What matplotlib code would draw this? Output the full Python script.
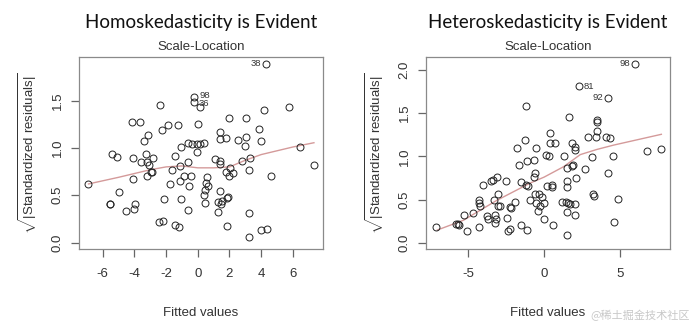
#!/usr/bin/env python
# coding: utf-8

"""
Scale-Location plots: homoskedastic vs heteroskedastic residuals
"""

import numpy as np
import matplotlib
matplotlib.use("Agg")
import matplotlib.pyplot as plt

# ---- left panel: homoskedasticity ----
homo_x = [-6.9, -5.56, -5.52, -5.39, -5.07, -4.95, -4.55, -4.13, -4.11, -4.11,
          -4.04, -3.94, -3.64, -3.58, -3.37, -3.26, -3.14, -3.2, -3.2, -3.05,
          -2.84, -2.86, -2.95, -2.38, -2.25, -2.46, -2.21, -2.13, -1.85, -1.75,
          -1.6, -1.47, -1.45, -1.18, -1.26, -1.12, -1.07, -1.09, -1.12, -0.84,
          -0.65, -0.61, -0.55, -0.65, -0.42, -0.34, -0.23, -0.27, 0.13, 0.0,
          -0.06, -0.02, 0.13, 0.38, 0.42, 0.46, 0.55, 0.48, 0.51, 0.65,
          1.09, 1.26, 1.26, 1.37, 1.39, 1.39, 1.41, 1.43, 1.47, 1.52,
          1.75, 1.83, 1.89, 1.96, 1.87, 1.77, 1.96, 2.02, 2.19, 2.53,
          2.76, 2.95, 3.05, 3.05, 3.22, 3.26, 3.28, 3.26, 3.87, 4.0,
          4.0, 4.17, 4.32, 4.36, 4.61, 5.75, 6.46, 7.33]
homo_y = [0.62, 0.41, 0.41, 0.94, 0.90, 0.54, 0.33, 1.27, 0.89, 0.67,
          0.36, 0.41, 1.27, 0.85, 1.07, 0.94, 1.14, 0.85, 0.70, 0.82,
          0.89, 0.75, 0.75, 1.45, 1.19, 0.22, 0.23, 0.46, 1.24, 0.62,
          0.77, 0.92, 0.19, 0.17, 1.24, 0.81, 1.01, 0.46, 0.65, 0.70,
          0.34, 0.85, 0.60, 1.05, 0.70, 1.04, 1.54, 1.48, 1.43, 1.25,
          1.04, 0.96, 1.04, 1.05, 0.50, 0.56, 0.69, 0.42, 0.63, 0.60,
          0.88, 0.32, 0.43, 1.17, 1.09, 0.55, 0.86, 0.83, 0.41, 0.44,
          1.10, 0.47, 0.48, 1.32, 0.18, 0.75, 0.70, 0.79, 0.74, 1.08,
          0.86, 1.02, 1.32, 1.12, 0.06, 0.31, 0.89, 0.77, 1.20, 1.07,
          0.13, 1.40, 1.89, 0.14, 0.70, 1.43, 1.01, 0.82]
homo_labels = {"38": (4.32, 1.89), "98": (-0.23, 1.555), "36": (-0.27, 1.47)}
homo_fit_x = [-6.9, -5, -4, -3, -2, -1, 0, 1, 2, 3, 4, 5, 6, 7.33]
homo_fit_y = [0.62, 0.69, 0.73, 0.77, 0.80, 0.81, 0.79, 0.79, 0.80, 0.87,
              0.93, 0.97, 1.01, 1.055]

# ---- right panel: heteroskedasticity ----
hetero_x = [-7.16, -5.81, -5.7, -5.64, -5.29, -5.11, -4.71, -4.30, -4.27, -4.27,
            -4.23, -4.07, -3.79, -3.74, -3.48, -3.39, -3.30, -3.28, -3.26, -3.19,
            -3.13, -3.08, -3.02, -2.95, -2.51, -2.47, -2.42, -2.25, -2.29, -2.18,
            -1.92, -1.81, -1.65, -1.52, -1.52, -1.30, -1.21, -1.15, -1.15, -1.23,
            -1.08, -0.93, -0.68, -0.66, -0.64, -0.53, -0.59, -0.51, -0.40, -0.33,
            -0.26, -0.13, -0.04, 0.0, 0.11, 0.18, 0.29, 0.40, 0.40, 0.51,
            0.51, 0.55, 0.73, 1.19, 1.32, 1.41, 1.48, 1.50, 1.50, 1.50,
            1.50, 1.54, 1.61, 1.72, 1.83, 1.85, 1.89, 2.0, 2.0, 2.05,
            2.05, 2.11, 2.31, 2.71, 2.91, 3.13, 3.24, 3.26, 3.44, 3.48,
            3.48, 3.48, 4.07, 4.19, 4.21, 4.36, 4.52, 4.58, 4.85, 6.01,
            6.78, 7.73]
hetero_y = [0.185, 0.22, 0.22, 0.20, 0.32, 0.14, 0.34, 0.185, 0.50, 0.46,
            0.43, 0.67, 0.31, 0.28, 0.71, 0.73, 0.49, 0.32, 0.23, 0.28,
            0.76, 0.56, 0.43, 0.43, 0.72, 0.29, 0.14, 0.16, 0.41, 0.40,
            0.47, 1.10, 0.90, 0.20, 0.70, 1.19, 1.58, 0.95, 0.15, 0.67,
            0.66, 0.49, 0.76, 0.96, 0.81, 1.10, 0.56, 0.46, 0.37, 0.56,
            0.42, 0.53, 0.28, 0.46, 1.01, 0.66, 1.00, 1.27, 1.16, 0.67,
            0.65, 0.21, 1.16, 0.47, 1.00, 0.47, 0.09, 0.87, 0.72, 0.65,
            0.35, 0.46, 1.45, 0.45, 1.15, 0.89, 0.90, 0.45, 0.32, 1.07,
            1.11, 0.75, 1.81, 0.85, 1.22, 0.99, 0.56, 0.54, 1.22, 1.29,
            1.40, 1.42, 1.22, 1.68, 0.81, 1.21, 1.00, 0.24, 0.51, 2.07,
            1.06, 1.08]
hetero_labels = {"98": (6.01, 2.07), "81": (2.31, 1.81), "92": (4.19, 1.68)}
hetero_fit_x = [-7.05, -5.33, -3.13, -0.93, 0.0, 1.28, 2.38, 3.48, 4.58, 7.73]
hetero_fit_y = [0.147, 0.26, 0.49, 0.69, 0.76, 0.88, 1.02, 1.08, 1.13, 1.255]


def panel(fig, rect, x, y, fx, fy, labels, title, xlim, ylim, xticks, yticks,
          label_side):
    ax = fig.add_axes(rect)
    ax.plot(fx, fy, color="#d49a9a", lw=1.0, zorder=1)
    ax.plot(x, y, "o", mfc="none", mec="#222222", ms=5.0, mew=0.7, zorder=2)
    for name, (px, py) in labels.items():
        if label_side[name] == "left":
            ax.annotate(name, (px, py), xytext=(-3.5, 0),
                        textcoords="offset points", ha="right", va="center",
                        fontsize=6.8, color="#333333")
        else:
            ax.annotate(name, (px, py), xytext=(3.5, 0),
                        textcoords="offset points", ha="left", va="center",
                        fontsize=6.8, color="#333333")
    ax.set_xlim(*xlim)
    ax.set_ylim(*ylim)
    ax.set_xticks(xticks)
    ax.set_xticklabels([("%g" % t) for t in xticks])
    ax.set_yticks(yticks)
    ax.set_yticklabels([("%.1f" % t) for t in yticks], rotation=90,
                       va="center")
    for s in ax.spines.values():
        s.set_color("#8a8a8a")
        s.set_linewidth(0.9)
    ax.tick_params(direction="out", length=6, width=0.9, color="#666666",
                   labelsize=9.5, labelcolor="#333333")
    ax.tick_params(axis="x", pad=8)
    ax.tick_params(axis="y", pad=5)
    ax.set_xlabel("Fitted values", fontsize=9.5, color="#333333",
                  labelpad=19)
    ax.set_ylabel(r"$\sqrt{|\mathrm{Standardized\ residuals}|}$",
                  fontsize=9.5, color="#333333", labelpad=9)
    ax.set_title("Scale-Location", fontsize=9.5, color="#333333", pad=5)
    x0 = rect[0] + rect[2] / 2
    fig.text(x0, 0.93, title, ha="center", va="center", fontsize=13.5,
             family="Lato", color="#111111")
    return ax


def main():
    plt.rcParams["font.family"] = ["Liberation Sans", "DejaVu Sans"]
    plt.rcParams["mathtext.fontset"] = "custom"
    plt.rcParams["mathtext.rm"] = "Liberation Sans"
    plt.rcParams["mathtext.it"] = "Liberation Sans:italic"

    fig = plt.figure(figsize=(6.91, 3.25), dpi=100)

    panel(fig, [0.1143, 0.2338, 0.3531, 0.5908], homo_x, homo_y,
          homo_fit_x, homo_fit_y, homo_labels, "Homoskedasticity is Evident",
          (-7.5, 7.9), (-0.067, 1.96), [-6, -4, -2, 0, 2, 4, 6],
          [0.0, 0.5, 1.0, 1.5],
          {"38": "left", "98": "right", "36": "right"})

    panel(fig, [0.6165, 0.2338, 0.3531, 0.5908], hetero_x, hetero_y,
          hetero_fit_x, hetero_fit_y, hetero_labels,
          "Heteroskedasticity is Evident",
          (-7.8, 8.3), (-0.073, 2.15), [-5, 0, 5],
          [0.0, 0.5, 1.0, 1.5, 2.0],
          {"98": "left", "81": "right", "92": "left"})

    fig.text(0.998, 0.03, "@稀土掘金技术社区", ha="right", va="center",
             fontsize=8, color="#c8c8c8", family=["Noto Sans CJK SC"])

    fig.savefig("out.png", dpi=100)


if __name__ == "__main__":

    main()
